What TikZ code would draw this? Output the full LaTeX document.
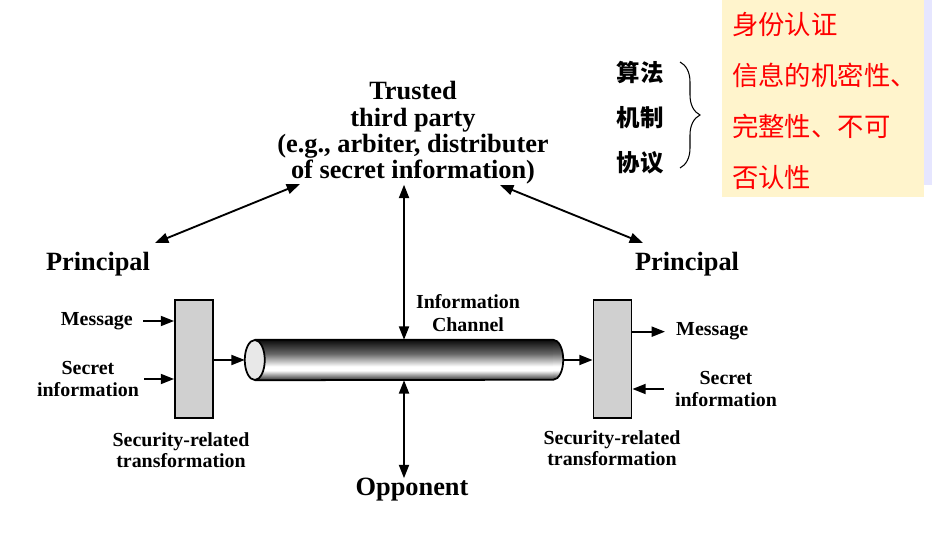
\documentclass[tikz,border=0pt]{standalone}
\usepackage{fontspec}
\setmainfont{Liberation Serif}
\newfontfamily\cjk{Noto Sans CJK SC}
\usetikzlibrary{arrows.meta,calc,decorations.pathreplacing}
\definecolor{NoteFill}{HTML}{FFF4CC}
\definecolor{NoteEdge}{HTML}{E6E6FF}
\definecolor{NoteRed}{HTML}{FF0000}
\definecolor{BoxGray}{HTML}{D0D0D0}
\definecolor{CapGray}{HTML}{E8E8E8}
\pgfdeclareverticalshading{tube}{100bp}{color(0bp)=(black!80); color(25bp)=(black!80);
    color(37bp)=(white); color(42bp)=(white); color(58bp)=(black!60);
    color(75bp)=(black!95); color(100bp)=(black!95)}

\begin{document}
\begin{tikzpicture}[
    label big/.style={font=\fontsize{22.5}{22.5}\selectfont\bfseries,
                      align=center, inner sep=0pt},
    label small/.style={font=\fontsize{17}{18}\selectfont\bfseries,
                        align=center, inner sep=0pt},
    transbox/.style={draw, fill=BoxGray, line width=1.5pt, minimum width=11.4mm,
                     minimum height=35.4mm, inner sep=0pt},
    channel/.style={shade, shading=tube, minimum width=89.4mm,
                    minimum height=12mm, inner sep=0pt},
    flow/.style={-{Triangle[length=4mm,width=3mm]}, line width=1.6pt},
    link/.style={{Triangle[length=4mm,width=3mm]}-{Triangle[length=4mm,width=3mm]},
                 line width=1.6pt},
    curly/.style={decorate, decoration={brace, amplitude=6mm}, line width=0.9pt}
]

% Canvas
\useasboundingbox (0,0) rectangle (28.23,15.99);
\fill[white] (0,0) rectangle (28.23,15.99);

% Annotation panel
\fill[NoteEdge] (27.72,10.44) rectangle (27.96,15.99);
\fill[NoteFill] (21.66,10.08) rectangle (27.72,15.99);
\node[anchor=west, align=left, inner sep=0pt, text=NoteRed,
      font=\cjk\fontsize{22.5}{43.5}\selectfont] (goals) at (21.96,12.96)
    {身份认证\\信息的机密性、\\完整性、不可\\否认性};
\node[align=center, inner sep=0pt,
      font=\cjk\fontsize{20}{38.4}\selectfont\bfseries] (mech) at (19.2,12.45)
    {算法\\机制\\协议};
\draw[curly] (20.4,14.13) -- (20.4,10.95);

% Trusted third party and principals
\node[label big] (ttp) at (12.39,12.0)
    {Trusted\\third party\\(e.g., arbiter, distributer\\of secret information)};
\node[label big] (princL) at (2.94,8.07) {Principal};
\node[label big] (princR) at (20.61,8.07) {Principal};
\coordinate (ttpW) at (9.0,10.47);
\coordinate (ttpE) at (15.0,10.44);
\coordinate (princLtop) at (4.65,8.7);
\coordinate (princRtop) at (19.29,8.7);
\draw[link] (princLtop) -- (ttpW);
\draw[link] (ttpE) -- (princRtop);

% Information channel
\node[channel] (channel) at (12.12,5.19) {};
\shade[shading=tube] (channel.north east)
    arc[start angle=90, end angle=-90, x radius=3mm, y radius=6mm];
\draw[line width=1.5pt] (channel.north west) -- (channel.north east)
    arc[start angle=90, end angle=-90, x radius=3mm, y radius=6mm]
    -- (channel.south west);
\draw[line width=1.5pt, fill=CapGray] (channel.west) ellipse [x radius=3mm, y radius=6mm];
\node[label small, font=\fontsize{17}{19.5}\selectfont\bfseries] (chanLbl)
    at (14.04,6.6) {Information\\Channel};

% Opponent
\node[label big] (opp) at (12.36,1.29) {Opponent};
\draw[link] (channel.north) -- (channel.north |- ttp.south);
\draw[link] (channel.south) -- (channel.south |- opp.north);

% Security-related transformations
\node[transbox] (boxL) at (5.82,5.22) {};
\node[transbox] (boxR) at (18.375,5.22) {};
\draw[flow] (boxL.east |- channel) -- ([xshift=-3mm]channel.west);
\draw[flow] ([xshift=3mm]channel.east) -- (channel -| boxR.west);
\node[label small] (trL) at (5.43,2.49) {Security-related\\transformation};
\node[label small] (trR) at (18.36,2.55) {Security-related\\transformation};

% Sender side
\node[label small, anchor=east] (msgL) at (3.99,6.36) {Message};
\draw[flow] ([xshift=3mm]msgL.east) -- (msgL.east -| boxL.west);
\node[label small] (secL) at (2.64,4.62) {Secret\\information};
\draw[flow] ([xshift=1.5mm]secL.east) -- (secL.east -| boxL.west);

% Receiver side
\node[label small, anchor=west] (msgR) at (20.28,6.04) {Message};
\draw[flow] (boxR.east |- msgR) -- ([xshift=-3.3mm]msgR.west);
\node[label small] (secR) at (21.78,4.32) {Secret\\information};
\draw[flow] ([xshift=-3.3mm]secR.west) -- (secR.west -| boxR.east);

\end{tikzpicture}
\end{document}
